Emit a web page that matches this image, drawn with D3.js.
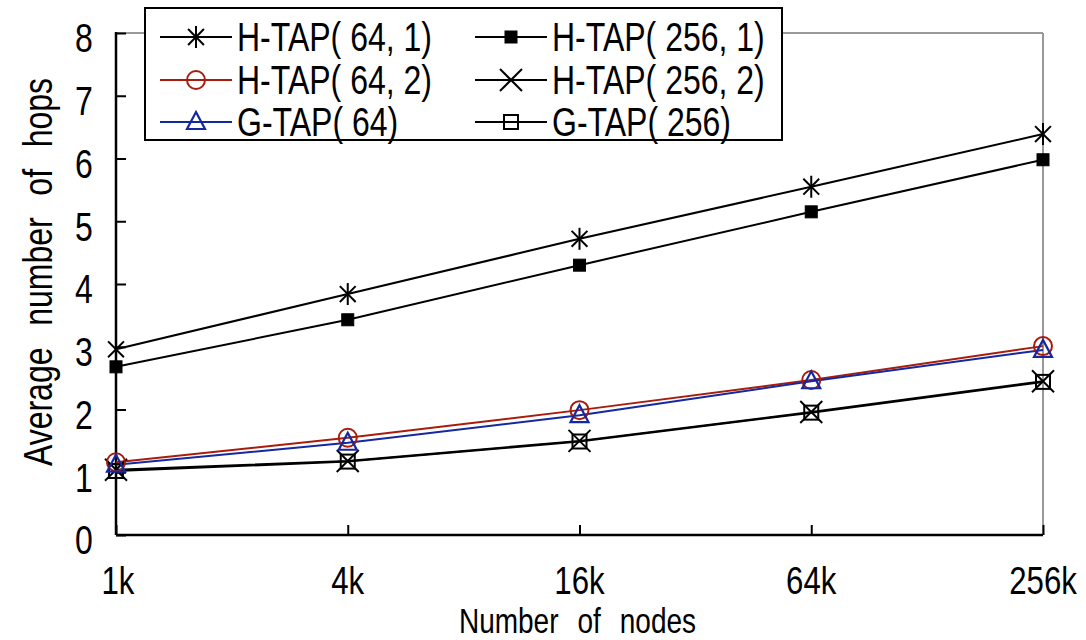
<!DOCTYPE html>
<html>
<head>
<meta charset="utf-8">
<title>Average number of hops</title>
<script src="https://cdn.jsdelivr.net/npm/d3@7"></script>
<style>
  body { margin: 0; background: #fff; }
  text { font-family: "Liberation Sans", Arial, sans-serif; fill: #000; }
</style>
</head>
<body>
<div id="chart"></div>
<script>
// data
const nodes = ["1k", "4k", "16k", "64k", "256k"];
const htap64_1 = [2.96, 3.84, 4.72, 5.55, 6.39];
const htap256_1 = [2.68, 3.43, 4.30, 5.15, 5.98];
const htap64_2 = [1.16, 1.55, 1.99, 2.47, 3.01];
const htap256_2 = [1.04, 1.18, 1.50, 1.96, 2.45];
const gtap64 = [1.12, 1.47, 1.91, 2.45, 2.95];
const gtap256 = [1.02, 1.17, 1.49, 1.95, 2.44];
const yTicks = [0, 1, 2, 3, 4, 5, 6, 7, 8];

const series = [
  {name: "H-TAP( 64, 1)", values: htap64_1, color: "#000", marker: "asterisk"},
  {name: "H-TAP( 256, 1)", values: htap256_1, color: "#000", marker: "fsquare"},
  {name: "H-TAP( 64, 2)", values: htap64_2, color: "#a81c0c", marker: "circle"},
  {name: "H-TAP( 256, 2)", values: htap256_2, color: "#000", marker: "cross"},
  {name: "G-TAP( 64)", values: gtap64, color: "#1428a0", marker: "triangle"},
  {name: "G-TAP( 256)", values: gtap256, color: "#000", marker: "osquare"}
];

const width = 1086, height = 640;
const margin = {top: 33, right: 43, bottom: 105, left: 116};
const plotW = width - margin.left - margin.right;
const plotH = height - margin.top - margin.bottom;
const squeeze = 0.8;   // the original font is a narrow one

const svg = d3.select("#chart").append("svg")
  .attr("width", width)
  .attr("height", height);

const g = svg.append("g").attr("transform", `translate(${margin.left},${margin.top})`);

const x = d3.scalePoint().domain(nodes).range([0, plotW]);
const y = d3.scaleLinear().domain([0, 8]).range([plotH, 0]);

// gray frame top/right
g.append("line").attr("x1", 0).attr("x2", plotW).attr("y1", 0).attr("y2", 0)
  .attr("stroke", "#999").attr("stroke-width", 2);
g.append("line").attr("x1", plotW).attr("x2", plotW).attr("y1", 0).attr("y2", plotH)
  .attr("stroke", "#999").attr("stroke-width", 2);

// y axis
const yAxis = g.append("g")
  .call(d3.axisRight(y).tickValues(yTicks).tickSize(10).tickFormat(""));
yAxis.select(".domain").remove();
yAxis.selectAll("line").attr("stroke", "#000").attr("stroke-width", 2);
g.append("line").attr("x1", 0).attr("x2", 0).attr("y1", -1).attr("y2", plotH)
  .attr("stroke", "#000").attr("stroke-width", 2.5);
g.selectAll(".ylab").data(yTicks).enter().append("text")
  .attr("class", "ylab")
  .attr("transform", d => `translate(-32,${y(d) + 5}) scale(${squeeze},1)`)
  .attr("dy", "0.36em")
  .attr("text-anchor", "middle")
  .style("font-size", "40px")
  .text(d => d);

// x axis
const xAxis = g.append("g").attr("transform", `translate(0,${plotH})`)
  .call(d3.axisTop(x).tickSize(10).tickFormat(""));
xAxis.select(".domain").remove();
xAxis.selectAll("line").attr("stroke", "#000").attr("stroke-width", 2);
g.append("line").attr("x1", 0).attr("x2", plotW).attr("y1", plotH).attr("y2", plotH)
  .attr("stroke", "#000").attr("stroke-width", 2.5);
g.selectAll(".xlab").data(nodes).enter().append("text")
  .attr("class", "xlab")
  .attr("transform", (d, i) => `translate(${x(d) + (i === 0 ? 2 : 0)},${plotH + 59}) scale(${squeeze},1)`)
  .attr("text-anchor", "middle")
  .style("font-size", "39px")
  .text(d => d);

// axis titles
svg.append("text")
  .attr("transform", `translate(${margin.left + plotW / 2 - 2},633) scale(${squeeze},1)`)
  .attr("text-anchor", "middle")
  .style("font-size", "35px")
  .style("word-spacing", "14px")
  .text("Number of nodes");

svg.append("clipPath").attr("id", "yclip")
  .append("rect").attr("x", 0).attr("y", 54).attr("width", 100).attr("height", 500);
svg.append("g").attr("clip-path", "url(#yclip)")
  .append("text")
  .attr("transform", `translate(52,272) rotate(-90) scale(${squeeze},1)`)
  .attr("text-anchor", "middle")
  .style("font-size", "40px")
  .style("word-spacing", "16px")
  .text("Average number of hops");

// marker drawing
function drawMarker(sel, type, color) {
  if (type === "asterisk") {
    const r = 11, d = r * 0.72;
    sel.append("line").attr("x1", 0).attr("x2", 0).attr("y1", -r).attr("y2", r);
    sel.append("line").attr("x1", -d).attr("x2", d).attr("y1", -d).attr("y2", d);
    sel.append("line").attr("x1", -d).attr("x2", d).attr("y1", d).attr("y2", -d);
    sel.selectAll("line").attr("stroke", color).attr("stroke-width", 2);
  } else if (type === "cross") {
    const r = 11;
    sel.append("line").attr("x1", -r).attr("x2", r).attr("y1", -r).attr("y2", r);
    sel.append("line").attr("x1", -r).attr("x2", r).attr("y1", r).attr("y2", -r);
    sel.selectAll("line").attr("stroke", color).attr("stroke-width", 2);
  } else if (type === "fsquare") {
    sel.append("rect").attr("x", -6).attr("y", -6).attr("width", 12).attr("height", 12)
      .attr("fill", color).attr("stroke", color).attr("stroke-width", 1);
  } else if (type === "osquare") {
    sel.append("rect").attr("x", -7).attr("y", -7).attr("width", 14).attr("height", 14)
      .attr("fill", "none").attr("stroke", color).attr("stroke-width", 2);
  } else if (type === "circle") {
    sel.append("circle").attr("r", 9)
      .attr("fill", "none").attr("stroke", color).attr("stroke-width", 2);
  } else if (type === "triangle") {
    sel.append("path").attr("d", "M0,-10L9,7L-9,7Z")
      .attr("fill", "none").attr("stroke", color).attr("stroke-width", 2.2);
  }
}

const line = d3.line().x((d, i) => x(nodes[i])).y(d => y(d));

// draw bottom series first so the upper ones sit on top
const drawOrder = [5, 3, 1, 0, 2, 4];
drawOrder.forEach(k => {
  const s = series[k];
  g.append("path").datum(s.values)
    .attr("d", line)
    .attr("fill", "none")
    .attr("stroke", s.color)
    .attr("stroke-width", 2);
});
drawOrder.forEach(k => {
  const s = series[k];
  s.values.forEach((v, i) => {
    const m = g.append("g").attr("transform", `translate(${x(nodes[i])},${y(v)})`);
    drawMarker(m, s.marker, s.color);
  });
});

// legend
const legend = svg.append("g").attr("transform", "translate(145,8)");
legend.append("rect").attr("width", 637).attr("height", 132)
  .attr("fill", "#fff").attr("stroke", "#000").attr("stroke-width", 2);

const legendCols = [15, 330];
const legendRows = [29, 72, 114];
series.forEach((s, i) => {
  const col = i % 2, row = Math.floor(i / 2);
  const item = legend.append("g")
    .attr("transform", `translate(${legendCols[col]},${legendRows[row]})`);
  item.append("line").attr("x1", 0).attr("x2", 72).attr("y1", 0).attr("y2", 0)
    .attr("stroke", s.color).attr("stroke-width", 2);
  const m = item.append("g").attr("transform", "translate(36,0)");
  drawMarker(m, s.marker, s.color);
  item.append("text")
    .attr("transform", `translate(77,0) scale(${squeeze},1)`)
    .attr("dy", "0.36em")
    .style("font-size", "40px")
    .text(s.name);
});
</script>
</body>
</html>
